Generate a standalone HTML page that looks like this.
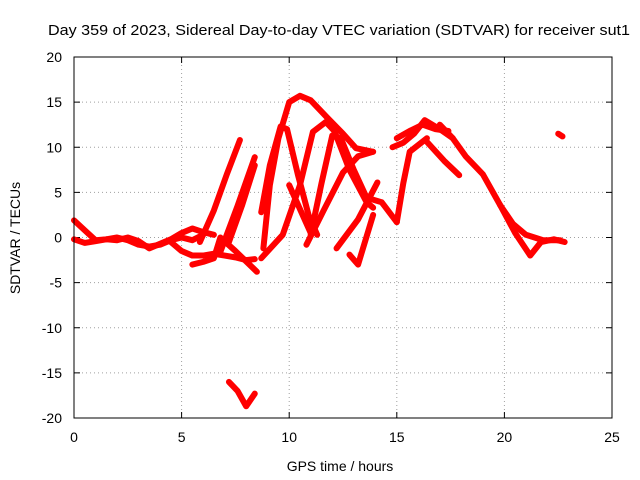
<!DOCTYPE html>
<html><head><meta charset="utf-8"><style>
body{margin:0;background:#fff}
svg{display:block;font-family:"Liberation Sans",sans-serif}
</style></head><body>
<svg id="chart" width="640" height="480">
<text x="339" y="35" text-anchor="middle" font-size="15" textLength="582" lengthAdjust="spacingAndGlyphs">Day 359 of 2023, Sidereal Day-to-day VTEC variation (SDTVAR) for receiver sut1</text>
<text x="340" y="471" text-anchor="middle" font-size="14">GPS time / hours</text>
<text x="20" y="238" text-anchor="middle" font-size="14" transform="rotate(-90 20 238)">SDTVAR / TECUs</text>
<g id="grid"></g>
<g id="ticks"></g>
<g id="series"></g>
<rect x="74" y="57" width="538" height="361" fill="none" stroke="#000" stroke-width="1"/>
</svg>
<script>
const xTicks=[0,5,10,15,20,25];
const yTicks=[-20,-15,-10,-5,0,5,10,15,20];
// arcs: hour values, SDTVAR values
const arcHours=[
[0,0.5,1,1.5,2,2.5,3,3.5,4,4.5,5,5.5,6],
[0,0.5,1,1.5,2,2.5,3,3.5,4,4.5,5,5.5,6,6.5],
[4.5,5,5.5,6,6.5,7,7.5,8,8.4],
[5.5,6,6.5,6.8,7.5,8.5],
[5.85,6.5,7.1,7.71],
[6.8,7.6,8.4],
[7.2,7.8,8.4],
[8.7,9.1,9.6,9.9,10.4,10.9,11.3],
[8.8,9.1,9.5,10,10.5,11,11.8,12.5,13.1,13.9],
[8.7,9.7,10.5,11.1,11.7,12.1,12.8,13.6,13.9],
[10,11],
[11,11.5,12,12.4,13,13.6,14.3,15],
[10.8,11.6,12.5,13.2,13.9],
[12.2,13.2,14.1],
[12.8,13.2,13.9],
[15,15.3,15.6,16.4],
[14.8,15.3,15.8,16.3,17,17.6],
[15,15.6,16.2,16.8,17.4],
[16.4,17.2,17.9],
[17,17.6,18.2,19,19.8,20.4,21,21.8,22.6],
[19.8,20.5,21.2,21.7,22.3,22.8],
[7.2,7.6,8,8.4],
[22.5,22.7]
];
const arcValues=[
[1.9,0.8,-0.3,-0.2,0,-0.3,-0.8,-1,-0.8,-0.3,0,-0.3,0.3],
[-0.2,-0.6,-0.4,-0.2,-0.3,0,-0.4,-1.2,-0.7,-0.2,0.5,1,0.6,0.3],
[-0.5,-1.5,-2,-2,-1.8,-2,-2.2,-2.5,-2.4],
[-3,-2.7,-2.3,0,-1.5,-3.8],
[-0.5,3,7,10.8],
[-1.6,3.5,8.9],
[-0.5,3.5,8],
[2.8,8,12.3,12,7,2.5,0.3],
[-1.2,5.8,11,15,15.7,15.2,13.2,11.5,9.9,9.5],
[-2.3,0.3,5.8,11.7,12.8,11.8,7.5,3.9,3.3],
[5.8,0.5],
[0.3,6,11.3,11,7.5,4.4,3.9,1.7],
[-0.8,3,7.2,9,9.5],
[-1.2,2,6.1],
[-1.9,-3,2.5],
[1.7,6,9.5,11],
[10,10.5,11.5,13,12,11],
[11,11.8,12.5,12,11.8],
[10.6,8.5,6.9],
[12.5,11,9,7,3.6,1.5,0.3,-0.3,-0.3],
[3.6,0.5,-2,-0.5,-0.2,-0.5],
[-16,-17,-18.7,-17.3],
[11.5,11.2]
];
const X=h=>74+h*538/25, Y=v=>237.5-v*361/40;
const NS="http://www.w3.org/2000/svg";
const g=document.getElementById('grid'),t=document.getElementById('ticks'),s=document.getElementById('series');
function mk(tag,a,p){const e=document.createElementNS(NS,tag);for(const k in a)e.setAttribute(k,a[k]);p.appendChild(e);return e;}
xTicks.forEach(v=>{
 if(v>0&&v<25){const l=mk('line',{x1:X(v),x2:X(v),y1:57,y2:418,stroke:'#a0a0a0','stroke-dasharray':'1,3'},g);
 
 }
 mk('line',{x1:X(v),x2:X(v),y1:418,y2:412,stroke:'#000'},t);mk('line',{x1:X(v),x2:X(v),y1:57,y2:63,stroke:'#000'},t);
 const tx=mk('text',{x:X(v),y:442,'text-anchor':'middle','font-size':14},t);tx.textContent=v;
 
 
});
yTicks.forEach(v=>{
 if(v>-20&&v<20){const l=mk('line',{x1:74,x2:612,y1:Y(v),y2:Y(v),stroke:'#a0a0a0','stroke-dasharray':'1,3'},g);
 
 }
 mk('line',{x1:74,x2:80,y1:Y(v),y2:Y(v),stroke:'#000'},t);mk('line',{x1:612,x2:606,y1:Y(v),y2:Y(v),stroke:'#000'},t);
 const tx=mk('text',{x:62,y:Y(v)+5,'text-anchor':'end','font-size':14},t);tx.textContent=v;
 
 
});
arcHours.forEach((hs,i)=>{
 const pts=hs.map((h,j)=>X(h)+','+Y(arcValues[i][j])).join(' ');
 const p=mk('polyline',{points:pts,fill:'none',stroke:'#f00','stroke-width':6,'stroke-linejoin':'round','stroke-linecap':'round'},s);
 
 
});
</script>
</body></html>
